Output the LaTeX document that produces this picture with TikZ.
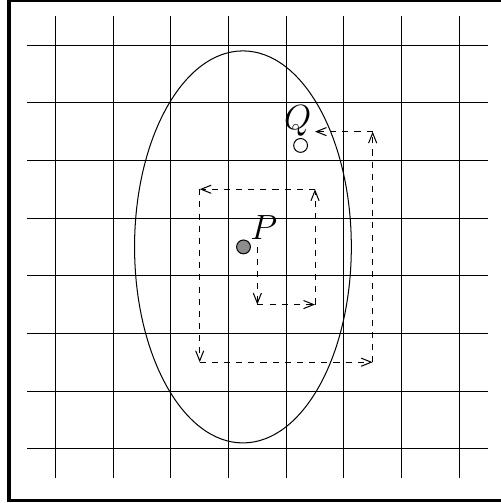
\documentclass[tikz,border=0pt]{standalone}
\usepackage{amsmath}
\usepackage{amssymb}
\usepackage{tikz}
\usetikzlibrary{arrows.meta}

\tikzset{
  gridline/.style={line width=0.5pt},
  walk/.style={dashed,line width=0.5pt,-{Straight Barb[length=5pt,width=4pt]}},
  pt/.style={circle,draw,line width=0.5pt,minimum size=0.24cm,inner sep=0pt},
}

\begin{document}
\begin{tikzpicture}[x=1cm,y=1cm]
        \useasboundingbox (-0.964,-0.942) rectangle (7.726,7.783);

        %Shape: Rectangle (frame)
        \draw [line width=1.7pt] (-0.805,-0.898) rectangle (7.9,7.774);

        %Straight Lines (grid)
        \foreach \i in {0,...,7}{
          \draw [gridline] (\i,-0.5) -- (\i,7.5);
          \draw [gridline] (-0.5,\i) -- (7.5,\i);
        }

        %Shape: Ellipse
        \draw [line width=0.5pt] (3.25,3.5) ellipse [x radius=1.88, y radius=3.4];

        %Shape: Circle
        \node [pt,fill={rgb,255:red,140;green,140;blue,140}] (p) at (3.26,3.5) {};
        %Shape: Circle
        \node [pt,fill=white] (q) at (4.25,5.26) {};

        % Text Node
        \node (plabel) at (3.61,3.83) {\fontsize{16}{19}\selectfont $P$};
        % Text Node
        \node (qlabel) at (4.2,5.68) {\fontsize{16}{19}\selectfont $Q$};

        %corners of the walk
        \coordinate (w0) at (3.5,3.5);
        \coordinate (w1) at (3.5,2.5);
        \coordinate (w2) at (4.5,2.5);
        \coordinate (w3) at (4.5,4.5);
        \coordinate (w4) at (2.5,4.5);
        \coordinate (w5) at (2.5,1.5);
        \coordinate (w6) at (5.5,1.5);
        \coordinate (w7) at (5.5,5.5);
        \coordinate (w8) at (4.5,5.5);

        %Straight Lines (walk)
        \draw [walk] (w0) -- (w1);
        \draw [walk] (w1) -- (w2);
        \draw [walk] (w2) -- (w3);
        \draw [walk] (w3) -- (w4);
        \draw [walk] (w4) -- (w5);
        \draw [walk] (w5) -- (w6);
        \draw [walk] (w6) -- (w7);
        \draw [walk] (w7) -- (w8);

\end{tikzpicture}
\end{document}
